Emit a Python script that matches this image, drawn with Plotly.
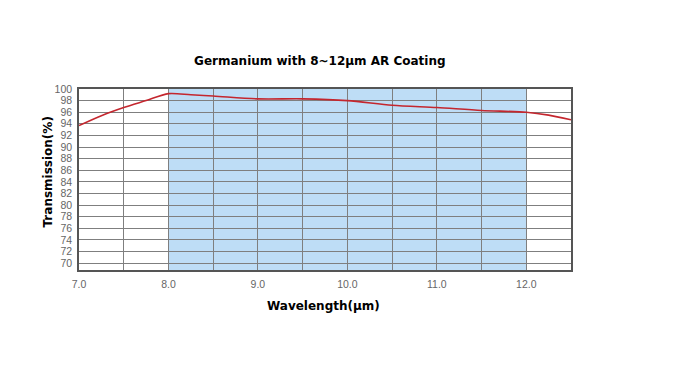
import plotly.graph_objects as go

wavelength = [7.0, 7.25, 7.5, 7.75, 8.0, 8.25, 8.5, 9.0, 9.5, 10.0, 10.5, 11.0, 11.5, 12.0, 12.25, 12.5]
transmission = [93.7, 95.4, 96.8, 98.0, 99.2, 99.0, 98.8, 98.3, 98.3, 98.0, 97.2, 96.8, 96.3, 96.0, 95.5, 94.7]
x_ticks = [7.0, 8.0, 9.0, 10.0, 11.0, 12.0]
x_tick_labels = ["7.0", "8.0", "9.0", "10.0", "11.0", "12.0"]
y_ticks = list(range(70, 101, 2))
band = [8.0, 12.0]

fig = go.Figure()
fig.add_trace(go.Scatter(
    x=wavelength, y=transmission, mode="lines",
    line=dict(color="#C4262E", width=1.6, shape="spline", smoothing=0.8),
    hoverinfo="skip", showlegend=False))

fig.add_shape(type="rect", xref="x", yref="paper", x0=band[0], x1=band[1], y0=0, y1=1,
              fillcolor="#BEDDF6", line=dict(width=0), layer="below")

grid = "#7F7F7F"
tickfont = dict(family="Liberation Sans", size=10.5, color="#666666")
fig.update_layout(
    width=675, height=379,
    margin=dict(l=71, r=112, t=81, b=117, autoexpand=False),
    paper_bgcolor="white", plot_bgcolor="rgba(0,0,0,0)",
    title=dict(text="<b>Germanium with 8~12μm AR Coating</b>",
               font=dict(family="DejaVu Sans", size=12, color="black"),
               x=0.462, xanchor="center", y=0.86, yanchor="middle"),
    xaxis=dict(range=[7.0, 12.5], tickvals=x_ticks, ticktext=x_tick_labels,
               showgrid=True, gridcolor=grid, gridwidth=1,
               minor=dict(dtick=0.5, tick0=7.0, showgrid=True, gridcolor=grid, gridwidth=1),
               showline=True, linecolor="#555555", linewidth=1.5, mirror=True,
               ticks="", ticklabelstandoff=4, tickfont=tickfont,
               automargin=False, zeroline=False, layer="above traces"),
    yaxis=dict(range=[68.8, 100], tickvals=y_ticks,
               showgrid=True, gridcolor=grid, gridwidth=1,
               showline=True, linecolor="#555555", linewidth=1.5, mirror=True,
               ticks="", ticklabelstandoff=3, tickfont=tickfont,
               automargin=False, zeroline=False, layer="above traces"),
    annotations=[
        dict(text="<b>Wavelength(μm)</b>", xref="paper", yref="paper", x=0.497, y=0,
             yshift=-36, xanchor="center", yanchor="middle", showarrow=False,
             font=dict(family="DejaVu Sans", size=12, color="black")),
        dict(text="<b>Transmission(%)</b>", xref="paper", yref="paper", x=0, y=0.5,
             xshift=-32, yshift=7, xanchor="center", yanchor="middle", textangle=-90,
             showarrow=False, font=dict(family="DejaVu Sans", size=12, color="black")),
    ],
)

fig.write_html("out.html")
